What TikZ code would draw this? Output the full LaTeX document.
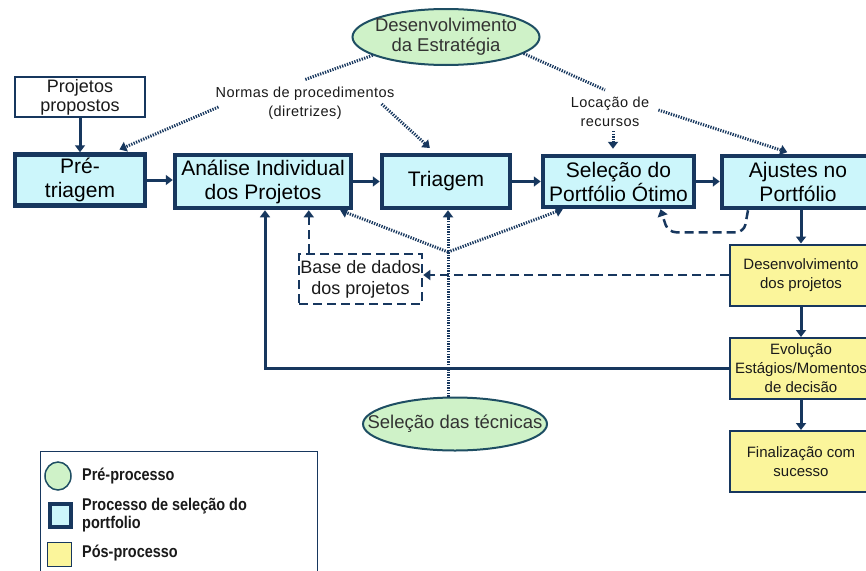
\documentclass[tikz,border=0pt]{standalone}
\usepackage{fontspec}
\setmainfont{Liberation Sans}
\usetikzlibrary{arrows.meta,shapes.geometric,calc}
\definecolor{navy}{HTML}{17375E}
\definecolor{cyanfill}{HTML}{CCF6FB}
\definecolor{greenfill}{HTML}{CFF2C8}
\definecolor{yellowfill}{HTML}{FBF59B}
\definecolor{ellline}{HTML}{1E4E63}
\definecolor{txt}{HTML}{1A1A1A}
\definecolor{elltxt}{HTML}{333333}
\begin{document}
\begin{tikzpicture}[x=1pt,y=-1pt,
  proc/.style={draw=navy, line width=4.5pt, fill=cyanfill, align=center, inner sep=0pt,
    text=black, font=\fontsize{21}{24}\selectfont},
  post/.style={draw=navy, line width=2pt, fill=yellowfill, align=center, inner sep=0pt,
    minimum width=142pt, minimum height=61pt, text=txt, font=\fontsize{15}{19}\selectfont},
  pre/.style={ellipse, draw=ellline, line width=2pt, fill=greenfill, inner ysep=0pt,
    align=center, text=elltxt, font=\fontsize{18.5}{20}\selectfont},
  tipstyle/.style={-{Triangle[width=10pt,length=7pt]}},
  arr/.style={draw=navy, line width=3pt, tipstyle},
  dotln/.style={draw=navy, line width=3pt, dash pattern=on 1.3pt off 1.3pt},
  dotarr/.style={dotln, tipstyle},
  dashln/.style={draw=navy, line width=2.5pt, dash pattern=on 9pt off 5pt},
  dasharr/.style={dashln, tipstyle},
  lbl/.style={font=\addfontfeature{LetterSpace=3}\fontsize{14.5}{19}\selectfont, align=center, text=txt, inner sep=1pt},
  legtxt/.style={font=\addfontfeature{FakeStretch=0.85}\bfseries\fontsize{17}{18}\selectfont,
    align=left, anchor=west, text=txt, inner sep=0pt}
]
\useasboundingbox (0,0) rectangle (866,570);
\fill[white] (0,0) rectangle (866,570);

% pre-process ellipses
\node[pre, inner xsep=-5pt, minimum width=187pt, minimum height=56pt] (dev) at (446,37) {Desenvolvimento\\da Estratégia};
\node[pre, inner xsep=-24pt, minimum width=184pt, minimum height=53pt] (tec) at (455,424) {Seleção das técnicas};

% input box
\node[draw=navy, line width=2pt, fill=white, minimum width=130pt, minimum height=40pt,
  inner sep=0pt, align=center, text=txt, font=\fontsize{18}{19}\selectfont] (prop) at (80,97) {Projetos\\propostos};

% process boxes
\node[proc, minimum width=130pt, minimum height=51pt] (pretri) at (80,180) {Pré-\\triagem};
\node[proc, minimum width=176pt, minimum height=53pt] (anal) at (263,181.5) {Análise Individual\\dos Projetos};
\node[proc, minimum width=128pt, minimum height=53pt] (tri) at (446,181.5) {Triagem};
\node[proc, minimum width=151pt, minimum height=51pt] (sel) at (618.5,181.5) {Seleção do\\Portfólio Ótimo};
\node[proc, minimum width=152pt, minimum height=52pt] (aj) at (798,182) {Ajustes no\\Portfólio};

% post-process boxes
\node[post] (desv) at (801,275) {Desenvolvimento\\dos projetos};
\node[post] (evol) at (801,368.5) {Evolução\\Estágios/Momentos\\de decisão};
\node[post] (fin) at (801,461.5) {Finalização com\\sucesso};

% database
\node[dashln, minimum width=123pt, minimum height=50pt, inner sep=0pt, align=center,
  text=txt, font=\fontsize{18}{21}\selectfont] (base) at (360.5,279) {Base de dados\\dos projetos};

% labels
\node[lbl] (normas) at (305,103) {Normas de procedimentos\\(diretrizes)};
\node[lbl] (loc) at (610,112) {Locação de\\recursos};

% main flow
\draw[arr] (prop.south) -- (pretri.north);
\draw[arr] (pretri.east) -- (pretri.east -| anal.west);
\draw[arr] (anal.east) -- (anal.east -| tri.west);
\draw[arr] (tri.east) -- (tri.east -| sel.west);
\draw[arr] (sel.east) -- (sel.east -| aj.west);
\draw[arr] (aj.south -| desv.north) -- (desv.north);
\draw[arr] (desv.south) -- (evol.north);
\draw[arr] (evol.south) -- (fin.north);
\draw[arr] (evol.west) -| ([xshift=2pt]anal.south);

% dashed connectors
\draw[dasharr] (desv.west) -- (desv.west -| base.east);
\draw[dasharr] ([xshift=11pt]base.north west) -- ([xshift=11pt]base.north west |- anal.south);
\draw[dasharr, rounded corners=8pt] ([xshift=-50pt]aj.south) -- ++(-4,22) -- ++(-76,0) -- ([xshift=42pt]sel.south);

% dotted connectors
\coordinate (J) at (448,252);
\draw[dotarr] (tec.north -| J) -- (J |- tri.south);
\draw[dotarr] (J) -- ([xshift=-13pt]anal.south east);
\draw[dotarr] (J) -- ([xshift=22pt]sel.south west);

\draw[dotln] (dev.-166) -- ([yshift=6pt]normas.north);
\draw[dotarr, shorten >=7pt] ([xshift=4pt,yshift=-4pt]normas.west) -- ([xshift=33pt]pretri.north);
\draw[dotarr, shorten >=7pt] ([xshift=-14pt,yshift=-1pt]normas.east) -- ([xshift=-11pt]tri.north);

\draw[dotln] (dev.-12) -- ([xshift=-5pt,yshift=6pt]loc.north);
\draw[dotarr, shorten >=5pt] ([xshift=3pt,yshift=-3pt]loc.south) -- ([xshift=3pt]loc.south |- sel.north);
\draw[dotarr, shorten >=5pt] ([xshift=8pt,yshift=2pt]loc.east) -- ([xshift=-6pt]aj.north);

% legend
\node[draw=navy, line width=1pt, fill=white, minimum width=277pt, minimum height=130pt,
  inner sep=0pt, anchor=north west] (leg) at (40,451) {};
\node[ellipse, draw=ellline, line width=1.5pt, fill=greenfill, minimum width=26pt,
  minimum height=28pt, inner sep=0pt] (legpre) at (58,476) {};
\node[draw=navy, line width=4pt, fill=cyanfill, minimum width=21pt, minimum height=23pt,
  inner sep=0pt] (legproc) at (60,515) {};
\node[draw=navy, line width=1.2pt, fill=yellowfill, minimum width=24pt, minimum height=24pt,
  inner sep=0pt] (legpost) at (59.5,554.5) {};
\node[legtxt] (lt1) at (82,476) {Pré-processo};
\node[legtxt] (lt2) at (82,515) {Processo de seleção do\\portfolio};
\node[legtxt] (lt3) at (82,553) {Pós-processo};
\end{tikzpicture}
\end{document}
